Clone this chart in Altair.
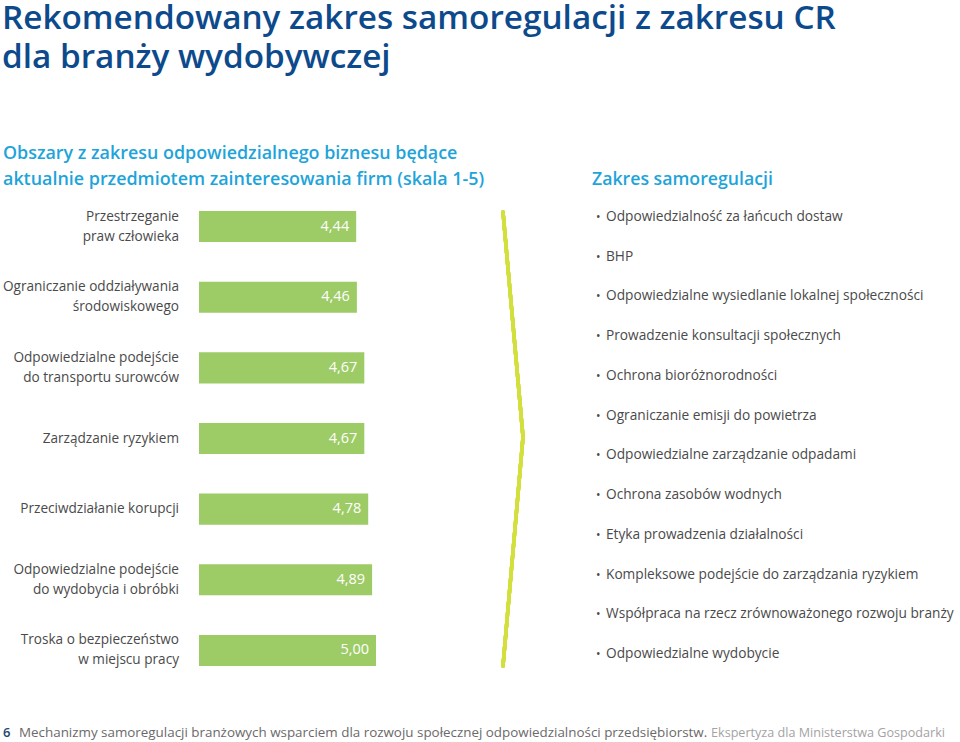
import altair as alt
import pandas as pd

# ---- data ----
categories = [
    "Przestrzeganie\npraw człowieka",
    "Ograniczanie oddziaływania\nśrodowiskowego",
    "Odpowiedzialne podejście\ndo transportu surowców",
    "Zarządzanie ryzykiem",
    "Przeciwdziałanie korupcji",
    "Odpowiedzialne podejście\ndo wydobycia i obróbki",
    "Troska o bezpieczeństwo\nw miejscu pracy",
]
scores = [4.44, 4.46, 4.67, 4.67, 4.78, 4.89, 5.00]

scope_items = [
    "Odpowiedzialność za łańcuch dostaw",
    "BHP",
    "Odpowiedzialne wysiedlanie lokalnej społeczności",
    "Prowadzenie konsultacji społecznych",
    "Ochrona bioróżnorodności",
    "Ograniczanie emisji do powietrza",
    "Odpowiedzialne zarządzanie odpadami",
    "Ochrona zasobów wodnych",
    "Etyka prowadzenia działalności",
    "Kompleksowe podejście do zarządzania ryzykiem",
    "Współpraca na rzecz zrównoważonego rozwoju branży",
    "Odpowiedzialne wydobycie",
]

title_lines = ["Rekomendowany zakres samoregulacji z zakresu CR", "dla branży wydobywczej"]
subtitle_lines = ["Obszary z zakresu odpowiedzialnego biznesu będące",
                  "aktualnie przedmiotem zainteresowania firm (skala 1-5)"]
right_heading = "Zakres samoregulacji"
footer_page = "6"
footer_main = "Mechanizmy samoregulacji branżowych wsparciem dla rozwoju społecznej odpowiedzialności przedsiębiorstw."
footer_tail = "Ekspertyza dla Ministerstwa Gospodarki"

FONT = "Open Sans"
TXT = "#4a4a4a"
DARK_BLUE = "#0d4a8c"
CYAN = "#1ea4da"
GREEN = "#9dcb66"
LIME = "#d3df3c"

bars_df = pd.DataFrame({
    "cat": categories,
    "score": scores,
    "label": [f"{v:.2f}".replace(".", ",") for v in scores],
    "lines": [c.count("\n") + 1 for c in categories],
})
items_df = pd.DataFrame({"item": scope_items})

x_enc = alt.X("score:Q", scale=alt.Scale(domain=[0, 5], range=[199, 376]), axis=None)
y_enc = alt.Y("cat:N", sort=categories,
              scale=alt.Scale(range=[191.2, 685.8], paddingInner=0.56, paddingOuter=0.28),
              axis=None)

base = alt.Chart(bars_df)
bars = base.mark_bar(color=GREEN).encode(x=x_enc, y=y_enc)
values = base.mark_text(align="right", baseline="middle", dx=-7, color="white",
                        font=FONT, fontSize=14.5).encode(x=x_enc, y=y_enc, text="label:N")
lab1 = base.transform_filter("datum.lines == 1").mark_text(
    align="right", baseline="middle", color=TXT, font=FONT, fontSize=13.6).encode(
    x=alt.value(179), y=y_enc, text="cat:N")
lab2 = base.transform_filter("datum.lines == 2").mark_text(
    align="right", baseline="middle", lineBreak="\n", lineHeight=20, dy=-10,
    color=TXT, font=FONT, fontSize=13.6).encode(
    x=alt.value(179), y=y_enc, text="cat:N")

left = alt.layer(bars, values, lab1, lab2)

yi = alt.Y("item:N", sort=scope_items,
           scale=alt.Scale(type="point", range=[217, 654], padding=0), axis=None)
ibase = alt.Chart(items_df)
bullets = ibase.mark_text(align="left", baseline="middle", color=TXT, font=FONT,
                          fontSize=12, text="•").encode(x=alt.value(596), y=yi)
items = ibase.mark_text(align="left", baseline="middle", color=TXT, font=FONT,
                        fontSize=13.7).encode(x=alt.value(606), y=yi, text="item:N")
right = alt.layer(bullets, items)

# bracket
seg1 = alt.Chart(bars_df).mark_rule(color=LIME, strokeWidth=3.5, strokeCap="round").encode(
    x=alt.value(503), y=alt.value(212), x2=alt.value(523), y2=alt.value(437))
seg2 = alt.Chart(bars_df).mark_rule(color=LIME, strokeWidth=3.5, strokeCap="round").encode(
    x=alt.value(523), y=alt.value(437), x2=alt.value(503), y2=alt.value(666))

tdf = pd.DataFrame({"a": [0]})
def txt(text, x, y, size, color, weight="normal", align="left"):
    return alt.Chart(tdf).mark_text(align=align, baseline="alphabetic", color=color, font=FONT,
                                    fontSize=size, fontWeight=weight).encode(
        x=alt.value(x), y=alt.value(y), text=alt.value(text))

title1 = txt(title_lines[0], 2, 29, 33.3, DARK_BLUE, 600)
title2 = txt(title_lines[1], 2, 68, 33.3, DARK_BLUE, 600)
sub1 = txt(subtitle_lines[0], 3, 159, 17.9, CYAN, 600)
sub2 = txt(subtitle_lines[1], 3, 185, 17.9, CYAN, 600)
rhead = txt(right_heading, 592, 185, 17.7, CYAN, 600)
f1 = txt(footer_page, 3, 737, 13, "#27466e", 600)
f2 = txt(footer_main, 19, 737, 13.4, "#6a6a6a")
f3 = txt(footer_tail, 945, 737, 12.6, "#a3a3a3", "normal", "right")

chart = alt.layer(left, right, seg1, seg2, title1, title2, sub1, sub2, rhead, f1, f2, f3
).resolve_scale(
    x="independent", y="independent"
).properties(
    width=960, height=742, autosize=alt.AutoSizeParams(type="none"), padding=0,
    background="white"
).configure_view(stroke=None)

chart.save("out.html", embed_options={"renderer": "svg", "actions": False})
